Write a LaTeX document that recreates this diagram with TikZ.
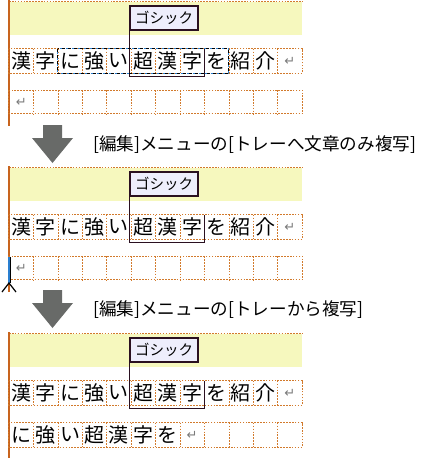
\documentclass[tikz,border=0pt]{standalone}
\usepackage{fontspec}
\setmainfont{Noto Sans CJK JP}
\newfontfamily\symfont{DejaVu Sans}
\definecolor{rulec}{HTML}{C8641E}
\definecolor{dotc}{HTML}{D27A2C}
\definecolor{bandc}{HTML}{F6F8BE}
\definecolor{gothfill}{HTML}{EEEEFC}
\definecolor{framec}{HTML}{2A1020}
\definecolor{arrowc}{HTML}{686A68}
\definecolor{retc}{HTML}{7A7A7A}
\definecolor{curc}{HTML}{2A7FD0}
\newcommand\retmark{{\color{retc}\fontsize{13}{13}\symfont ↵}}
\tikzset{
  cell/.style={minimum width=24.42pt,minimum height=24pt,inner sep=0pt,
    font=\fontsize{20}{20}\selectfont},
  grid/.style={dotc,line width=0.9pt,dash pattern=on 1.6pt off 1.3pt},
  gothic/.style={draw=framec,fill=gothfill,line width=1.4pt,minimum width=68pt,
    minimum height=24pt,inner sep=0pt,font=\fontsize{14.5}{14.5}\selectfont},
  bracketline/.style={framec,line width=1.4pt},
  caption/.style={anchor=west,inner sep=0pt,font=\fontsize{17.6}{17.6}\selectfont}
}
\begin{document}
\begin{tikzpicture}[x=1pt,y=-1pt]
\useasboundingbox (0,0) rectangle (423,458);
% the three states of the page
\foreach \p/\oy in {1/0,2/166,3/332}{
  \fill[bandc] (9,\oy+2) rectangle (302,\oy+35);
  \draw[grid] (9,\oy+1) -- (302,\oy+1);
  \draw[rulec,line width=1.5pt] (9,\oy) -- (9,\oy+126);
  \foreach \ch [count=\i] in {漢,字,に,強,い,超,漢,字,を,紹,介,\retmark}
    \node[cell] (p\p a\i) at ({24.42*\i-3.21},\oy+61) {\ch};
}
% second lines
\foreach \p/\oy in {1/0,2/166}
  \foreach \ch [count=\i] in {\retmark,{},{},{},{},{},{},{},{},{},{},{}}
    \node[cell,minimum height=23pt] (p\p b\i) at ({24.42*\i-3.21},\oy+102) {\ch};
\foreach \ch [count=\i] in {に,強,い,超,漢,字,を,\retmark,{},{},{},{}}
  \node[cell] (p3b\i) at ({24.42*\i-3.21},435) {\ch};
% dotted character grid
\foreach \p in {1,2,3}
  \foreach \r in {a,b}{
    \draw[grid] (p\p\r1.north west) rectangle (p\p\r12.south east);
    \foreach \i in {1,...,11}
      \draw[grid] (p\p\r\i.north east) -- (p\p\r\i.south east);
  }
% font change box
\foreach \p/\oy in {1/0,2/166,3/332}{
  \node[gothic] (g\p) at (164,\oy+18) {ゴシック};
  \draw[bracketline] (g\p.south west) |- ([yshift=-3pt]p\p a8.south east) -- (p\p a8.north east);
}
% selection
\draw[black,line width=1pt,dash pattern=on 3pt off 3pt] (p1a3.north west) rectangle (p1a9.south east);
\draw[curc,line width=1pt,dash pattern=on 2pt off 4pt,dash phase=-3.5pt] (p1a3.north west) rectangle (p1a9.south east);
% cursor
\coordinate (cur) at (9,283);
\draw[black,line width=3pt] (cur) -- ++(0,-26);
\draw[curc,line width=1.6pt] (cur) -- ++(0,-26);
\draw[black,line width=1.2pt] (2,292) -- (cur) -- (16,292);
% arrows and captions
\foreach \oy in {0,165}
  \fill[arrowc] (43,\oy+125) -- (62,\oy+125) -- (62,\oy+138) -- (73,\oy+138)
    -- (52.5,\oy+163) -- (32,\oy+138) -- (43,\oy+138) -- cycle;
\node[caption] (t2) at (93,145) {[編集]メニューの[トレーへ文章のみ複写]};
\node[caption] (t3) at (93,310) {[編集]メニューの[トレーから複写]};
\end{tikzpicture}
\end{document}
